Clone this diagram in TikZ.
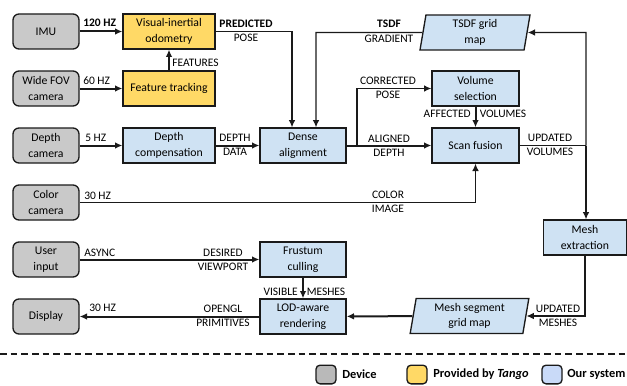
\documentclass[tikz,border=0pt]{standalone}
\usepackage{fontspec}
\setmainfont{Carlito}
\usetikzlibrary{arrows.meta,shapes.geometric}

\definecolor{devfill}{HTML}{C9C9C9}
\definecolor{tangofill}{HTML}{FFD966}
\definecolor{sysfill}{HTML}{CFE2F3}
\definecolor{legdev}{HTML}{B9B9B9}
\definecolor{legsys}{HTML}{C9DAF8}
\definecolor{edge}{HTML}{1A1A1A}

\tikzset{
  boxtext/.style={font=\fontsize{8.8}{11.8}\selectfont, align=center, inner sep=0pt},
  device/.style={boxtext, draw=edge, line width=1pt, fill=devfill, rounded corners=4.5pt,
    minimum width=49.5pt, minimum height=26.25pt},
  tango/.style={boxtext, draw=edge, line width=1pt, fill=tangofill,
    minimum width=69pt, minimum height=26.25pt},
  sysbox/.style={boxtext, draw=edge, line width=1pt, fill=sysfill,
    minimum height=26.25pt},
  gridmap/.style={boxtext, draw=edge, line width=1pt, fill=sysfill, trapezium,
    trapezium left angle=77, trapezium right angle=103, trapezium stretches body,
    minimum height=26.25pt},
  lab/.style={font=\fontsize{8.6}{10.5}\selectfont, inner sep=0pt, align=center},
  blab/.style={lab, font=\fontsize{8.6}{10.5}\selectfont\bfseries},
  flow/.style={line width=1.5pt, draw=edge, -{Latex[length=5.5pt,width=5pt]}},
  link/.style={line width=0.9pt, draw=edge, -{Latex[length=5.5pt,width=5pt]}},
  plain/.style={line width=0.9pt, draw=edge},
  legbox/.style={draw=edge, line width=1pt, rounded corners=3pt,
    minimum width=15pt, minimum height=14pt, inner sep=0pt},
  legtext/.style={font=\fontsize{9.3}{10}\selectfont\bfseries, inner sep=0pt, anchor=west},
}

\begin{document}
\begin{tikzpicture}[x=0.75pt, y=-0.75pt]
\useasboundingbox (0,0) rectangle (627,385);

% devices
\node[device] (imu)   at (46,31.5)  {IMU};
\node[device] (wide)  at (46,88.5)  {Wide FOV\\camera};
\node[device] (depth) at (46,145.5) {Depth\\camera};
\node[device] (color) at (46,202.5) {Color\\camera};
\node[device] (user)  at (46,259.5) {User\\input};
\node[device] (disp)  at (46,316.5) {Display};

% Tango components
\node[tango] (vio)  at (169,31.5) {Visual-inertial\\odometry};
\node[tango] (feat) at (169,88.5) {Feature tracking};

% system components
\node[sysbox, minimum width=69pt]    (dcomp)  at (169,145.5) {Depth\\compensation};
\node[sysbox, minimum width=64.5pt]  (dense)  at (303,145.5) {Dense\\alignment};
\node[sysbox, minimum width=65.25pt] (volsel) at (475.5,88.5) {Volume\\selection};
\node[sysbox, minimum width=65.25pt] (scan)   at (475.5,145.5) {Scan fusion};
\node[sysbox, minimum width=62pt]    (mesh)   at (585,237.5) {Mesh\\extraction};
\node[sysbox, minimum width=64.5pt]  (frust)  at (303,259.5) {Frustum\\culling};
\node[sysbox, minimum width=64.5pt]  (lod)    at (303,316.5) {LOD-aware\\rendering};
\node[gridmap, minimum width=82.5pt] (tsdf)   at (475,32.5) {TSDF grid\\map};
\node[gridmap, minimum width=89pt]   (mseg)   at (469.5,316) {Mesh segment\\grid map};

% junction points
\coordinate (predK)  at (292,31.5);
\coordinate (gradK)  at (316,32.5);
\coordinate (corrK)  at (357,145.5);
\coordinate (updV)   at (586,145.5);
\coordinate (updTop) at (586,32.5);
\coordinate (colK)   at (475.5,202.5);

% connectors
\draw[flow] (imu) -- (vio);
\draw[flow] (wide) -- (feat);
\draw[flow] (feat) -- (vio);
\draw[flow] (depth) -- (dcomp);
\draw[flow] (dcomp) -- (dense);
\draw[flow] (dense) -- (scan);
\draw[flow] (volsel) -- (scan);
\draw[flow] (user) -- (frust);
\draw[flow] (frust) -- (lod);
\draw[flow] (lod) -- (disp);
\draw[flow] (mseg) -- (lod);

\draw[link] (vio.east) -- (predK) -- (predK |- dense.north);
\draw[link] (tsdf.west) -- (gradK) -- (gradK |- dense.north);
\draw[link] (corrK) |- (volsel.west);
\draw[plain] (scan.east) -- (updV);
\draw[link] (updV) -- (updTop) -- (tsdf.east);
\draw[link] (updV) -- (updV |- mesh.north);
\draw[link] (color.east) -- (colK) -- (scan.south);
\draw[link] (mesh.south) |- (mseg.east);

% connector labels
\node[blab, anchor=west] (l120) at (83,23) {120 HZ};
\node[lab, anchor=west]  (l60)  at (83,81) {60 HZ};
\node[lab, anchor=west]  (lfeat) at (172,63) {FEATURES};
\node[blab] (lpred) at (246,24) {PREDICTED};
\node[lab]  (lpose) at (246,38) {POSE};
\node[blab] (ltsdf) at (389,24) {TSDF};
\node[lab]  (lgrad) at (389,39) {GRADIENT};
\node[lab, anchor=west] (l5) at (85,138) {5 HZ};
\node[lab] (ldd) at (235,145) {DEPTH\\DATA};
\node[lab] (lcp) at (388,88) {CORRECTED\\POSE};
\node[lab, anchor=east] (laff) at (471,114) {AFFECTED};
\node[lab, anchor=west] (lvol) at (479.5,114) {VOLUMES};
\node[lab] (lad) at (389,145.5) {ALIGNED\\DEPTH};
\node[lab] (luv) at (550,145) {UPDATED\\VOLUMES};
\node[lab, anchor=west] (l30c) at (84,196) {30 HZ};
\node[lab] (lci) at (388,201.5) {COLOR\\IMAGE};
\node[lab, anchor=west] (lasync) at (84,253) {ASYNC};
\node[lab] (ldv) at (223,260) {DESIRED\\VIEWPORT};
\node[lab, anchor=east] (lvis) at (298,291.5) {VISIBLE};
\node[lab, anchor=west] (lmsh) at (306.5,291.5) {MESHES};
\node[lab, anchor=west] (l30d) at (89,308) {30 HZ};
\node[lab] (logl) at (223,316) {OPENGL\\PRIMITIVES};
\node[lab] (lum) at (558,316) {UPDATED\\MESHES};

% legend
\draw[line width=0.9pt, draw=edge, dash pattern=on 5pt off 3pt] (0,354) -- (627,354);
\node[legbox, fill=legdev]    (kdev) at (326,374.5) {};
\node[legtext] (tdev) at (342,374.5) {Device};
\node[legbox, fill=tangofill] (ktan) at (417,374.5) {};
\node[legtext] (ttan) at (433,374.5) {Provided by \textit{Tango}};
\node[legbox, fill=legsys]    (ksys) at (552,374.5) {};
\node[legtext] (tsys) at (567,374.5) {Our system};
\end{tikzpicture}
\end{document}
